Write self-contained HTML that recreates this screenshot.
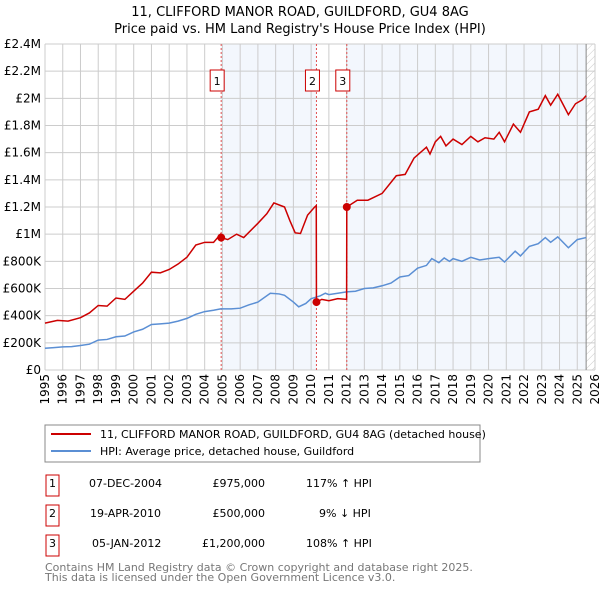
<!DOCTYPE html>
<html><head><meta charset="utf-8"><style>
body{margin:0;background:#fff;font-family:"Liberation Sans","DejaVu Sans",sans-serif}
svg text{font-family:"DejaVu Sans","Liberation Sans",sans-serif}
</style></head><body>
<svg id="c" width="600" height="590" xmlns="http://www.w3.org/2000/svg">
<text x="300" y="16" text-anchor="middle" font-size="13">11, CLIFFORD MANOR ROAD, GUILDFORD, GU4 8AG</text>
<text x="300" y="33" text-anchor="middle" font-size="13">Price paid vs. HM Land Registry's House Price Index (HPI)</text>
<defs><pattern id="h" width="5" height="5" patternUnits="userSpaceOnUse" patternTransform="rotate(45)"><line x1="0" y1="0" x2="0" y2="5" stroke="#ccc" stroke-width="1"/></pattern></defs>
<g id="plot"></g>
<rect x="45" y="425" width="435" height="37" fill="#fff" stroke="#888"/>
<line x1="51" y1="434" x2="91" y2="434" stroke="#cc0000" stroke-width="2"/>
<text x="100" y="438" font-size="11">11, CLIFFORD MANOR ROAD, GUILDFORD, GU4 8AG (detached house)</text>
<line x1="51" y1="451" x2="91" y2="451" stroke="#5b8fd4" stroke-width="2"/>
<text x="100" y="455" font-size="11">HPI: Average price, detached house, Guildford</text>
<g font-size="11">
<rect x="46" y="475" width="13" height="21" fill="#fff" stroke="#cc0000"/><text x="52.5" y="487" text-anchor="middle">1</text>
<text x="89" y="487">07-DEC-2004</text><text x="265" y="487" text-anchor="end">£975,000</text><text x="306" y="487">117% ↑ HPI</text>
<rect x="46" y="505" width="13" height="21" fill="#fff" stroke="#cc0000"/><text x="52.5" y="517" text-anchor="middle">2</text>
<text x="90" y="517">19-APR-2010</text><text x="265" y="517" text-anchor="end">£500,000</text><text x="319" y="517">9% ↓ HPI</text>
<rect x="46" y="535" width="13" height="21" fill="#fff" stroke="#cc0000"/><text x="52.5" y="547" text-anchor="middle">3</text>
<text x="92" y="547">05-JAN-2012</text><text x="265" y="547" text-anchor="end">£1,200,000</text><text x="306" y="547">108% ↑ HPI</text>
</g>
<text x="45" y="571" font-size="11" fill="#777">Contains HM Land Registry data © Crown copyright and database right 2025.</text>
<text x="45" y="581" font-size="11" fill="#777">This data is licensed under the Open Government Licence v3.0.</text>
</svg>
<script>
const hpiYears=[1995,1995.5,1996,1996.5,1997,1997.5,1998,1998.5,1999,1999.5,2000,2000.5,2001,2001.5,2002,2002.5,2003,2003.5,2004,2004.5,2004.9,2005.5,2006,2006.5,2007,2007.7,2008.2,2008.5,2009,2009.3,2009.7,2010,2010.5,2010.8,2011,2011.5,2012,2012.5,2013,2013.5,2014,2014.5,2015,2015.5,2016,2016.5,2016.8,2017.2,2017.5,2017.8,2018,2018.5,2019,2019.5,2020,2020.6,2020.9,2021.5,2021.8,2022.3,2022.8,2023.2,2023.5,2023.9,2024.5,2025,2025.5];
const hpiValues=[160,165,170,172,180,190,220,225,245,250,280,300,335,340,345,360,380,410,430,440,450,450,455,480,500,565,560,550,500,465,490,525,545,565,555,565,575,580,600,605,620,640,685,695,750,770,820,790,825,800,820,800,830,810,820,830,795,875,840,910,930,975,940,980,900,960,975];
const priceYears=[1995,1995.7,1996.3,1997,1997.5,1998,1998.5,1999,1999.5,2000,2000.5,2001,2001.5,2002,2002.5,2003,2003.5,2004,2004.5,2004.9,2004.93,2005.3,2005.8,2006.2,2007,2007.5,2007.9,2008.5,2008.8,2009.1,2009.4,2009.8,2010.2,2010.29,2010.3,2010.6,2011,2011.5,2012.0,2012.01,2012.6,2013.2,2014,2014.8,2015.3,2015.8,2016.5,2016.7,2017,2017.3,2017.6,2018,2018.5,2019,2019.4,2019.8,2020.3,2020.6,2020.9,2021.4,2021.8,2022.3,2022.8,2023.2,2023.5,2023.9,2024.5,2024.9,2025.3,2025.5];
const priceValues=[345,365,360,385,420,475,470,530,520,580,640,720,715,740,780,830,920,940,940,1000,975,960,1000,975,1080,1150,1230,1200,1100,1010,1005,1140,1200,1210,500,520,510,525,520,1200,1250,1250,1300,1430,1440,1560,1640,1590,1680,1720,1650,1700,1660,1720,1680,1710,1700,1750,1680,1810,1750,1900,1920,2020,1950,2030,1880,1960,1990,2020];
const saleYears=[2004.93,2010.3,2012.01];
const saleValues=[975,500,1200];
const saleLabels=["1","2","3"];
const yTicks=[0,200,400,600,800,1000,1200,1400,1600,1800,2000,2200,2400];
const yTickLabels=["£0","£200K","£400K","£600K","£800K","£1M","£1.2M","£1.4M","£1.6M","£1.8M","£2M","£2.2M","£2.4M"];
const xTicks=[1995,1996,1997,1998,1999,2000,2001,2002,2003,2004,2005,2006,2007,2008,2009,2010,2011,2012,2013,2014,2015,2016,2017,2018,2019,2020,2021,2022,2023,2024,2025,2026];
const L=45,R=595,T=44,B=370;
const xs=y=>L+(y-1995)/(2026-1995)*(R-L);
const ys=v=>B-v/2400*(B-T);
const NS="http://www.w3.org/2000/svg",g=document.getElementById('plot');
function mk(t,a){const e=document.createElementNS(NS,t);for(const k in a)e.setAttribute(k,a[k]);g.appendChild(e);return e;}
let e;
e=mk('rect',{x:xs(saleYears[0]),y:T,width:xs(saleYears[1])-xs(saleYears[0]),height:B-T,fill:'#eef3fc',opacity:0.7});


e=mk('rect',{x:xs(saleYears[2]),y:T,width:xs(2025.5)-xs(saleYears[2]),height:B-T,fill:'#eef3fc',opacity:0.7});


e=mk('rect',{x:xs(2025.5),y:T,width:R-xs(2025.5),height:B-T,fill:'url(#h)'});


yTicks.forEach((v,i)=>{
 e=mk('line',{x1:L,x2:R,y1:ys(v),y2:ys(v),stroke:'#ccc'});
 
 
 e=mk('text',{x:L-4,y:ys(v)+4,'text-anchor':'end','font-size':12});e.textContent=yTickLabels[i];
 
 
});
xTicks.forEach(y=>{
 e=mk('line',{x1:xs(y),x2:xs(y),y1:T,y2:B,stroke:'#ccc'});
 
 
 e=mk('text',{transform:`translate(${xs(y)+4},${B+4}) rotate(-90)`,'text-anchor':'end','font-size':12});e.textContent=y;
 
 
});
e=mk('line',{x1:xs(2025.5),x2:xs(2025.5),y1:T,y2:B,stroke:'#888'});


saleYears.forEach((y,i)=>{
 e=mk('line',{x1:xs(y),x2:xs(y),y1:T,y2:B,stroke:'#e05050','stroke-dasharray':'2,2'});
 
 
 e=mk('rect',{x:xs(y)-11,y:70,width:14,height:21,fill:'#fff',stroke:'#cc0000'});
 
 
 e=mk('text',{x:xs(y)-4,y:85,'text-anchor':'middle','font-size':11});e.textContent=saleLabels[i];
 
 
});
e=mk('polyline',{points:hpiYears.map((y,i)=>xs(y)+','+ys(hpiValues[i])).join(' '),fill:'none',stroke:'#5b8fd4','stroke-width':1.5});


e=mk('polyline',{points:priceYears.map((y,i)=>xs(y)+','+ys(priceValues[i])).join(' '),fill:'none',stroke:'#cc0000','stroke-width':1.5});


saleYears.forEach((y,i)=>{
 e=mk('circle',{cx:xs(y),cy:ys(saleValues[i]),r:4,fill:'#cc0000'});
 
 
});
</script>
</body></html>
